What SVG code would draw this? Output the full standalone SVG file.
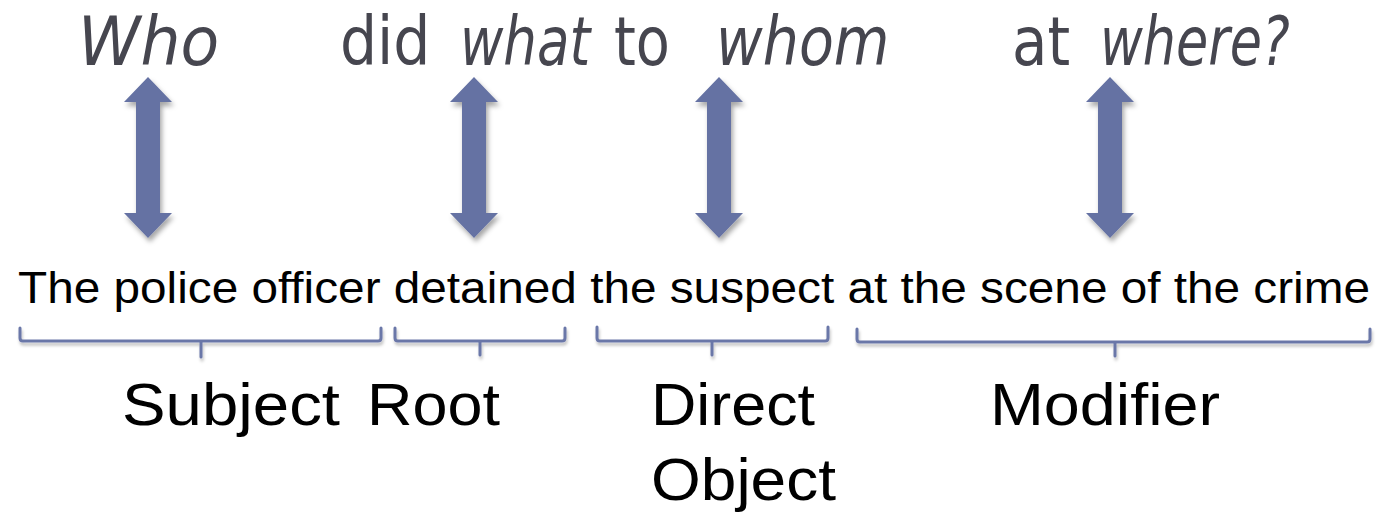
<svg xmlns="http://www.w3.org/2000/svg" width="1382" height="516" viewBox="0 0 1382 516">
  <style>
    .q { font-family: "DejaVu Sans", "Liberation Sans", sans-serif; font-size: 68px; fill: #46464f; }
    .qi { font-style: italic; }
    .sent { font-family: "Liberation Sans", Arial, sans-serif; font-size: 45px; fill: #000; }
    .lab { font-family: "Liberation Sans", Arial, sans-serif; font-size: 60px; fill: #000; }
    .arrow { fill: #6572a3; filter: url(#shadow); }
    .brace { fill: none; stroke: #6b77a8; stroke-width: 3; stroke-linecap: round; stroke-linejoin: round; filter: url(#shadow2); }
  </style>
  <defs>
    <filter id="shadow" x="-50%" y="-20%" width="200%" height="140%">
      <feDropShadow dx="2" dy="4" stdDeviation="2.5" flood-color="#000" flood-opacity="0.35"/>
    </filter>
    <filter id="shadow2" x="-5%" y="-50%" width="110%" height="200%">
      <feDropShadow dx="1" dy="3" stdDeviation="1.5" flood-color="#000" flood-opacity="0.25"/>
    </filter>
    <!-- double-headed vertical arrow, centred on x=0 -->
    <path id="dbl" d="M0,77 L24,102 L12,102 L12,213 L24,213 L0,238 L-24,213 L-12,213 L-12,102 L-24,102 Z"/>
  </defs>

  <!-- question line: each word condensed horizontally -->
  <g id="question">
    <text class="q qi" transform="translate(78,65) scale(0.93,1)">Who</text>
    <text class="q" transform="translate(340,65) scale(0.86,1)">did</text>
    <text class="q qi" transform="translate(460,65) scale(0.78,1)">what</text>
    <text class="q" transform="translate(614,65) scale(0.82,1)">to</text>
    <text class="q qi" transform="translate(716,65) scale(0.84,1)">whom</text>
    <text class="q" transform="translate(1012,65) scale(0.85,1)">at</text>
    <text class="q qi" transform="translate(1100,65) scale(0.77,1)">where?</text>
  </g>

  <!-- example sentence -->
  <g id="sentence">
    <text class="sent" x="18" y="303" textLength="1352" lengthAdjust="spacingAndGlyphs">The police officer detained the suspect at the scene of the crime</text>
  </g>

  <!-- role labels -->
  <g id="label-subject"><text class="lab" x="122" y="425" textLength="218" lengthAdjust="spacingAndGlyphs">Subject</text></g>
  <g id="label-root"><text class="lab" x="367" y="425" textLength="133" lengthAdjust="spacingAndGlyphs">Root</text></g>
  <g id="label-object">
    <text class="lab" x="651" y="425" textLength="164" lengthAdjust="spacingAndGlyphs">Direct</text>
    <text class="lab" x="651" y="500" textLength="185" lengthAdjust="spacingAndGlyphs">Object</text>
  </g>
  <g id="label-modifier"><text class="lab" x="990" y="425" textLength="230" lengthAdjust="spacingAndGlyphs">Modifier</text></g>

  <!-- arrows and braces -->
  <g id="connectors">
    <use href="#dbl" class="arrow" x="148"/>
    <use href="#dbl" class="arrow" x="474"/>
    <use href="#dbl" class="arrow" x="719"/>
    <use href="#dbl" class="arrow" x="1110"/>

    <path class="brace" d="M20,328 L20,338 Q20,341 23,341 L378,341 Q381,341 381,338 L381,328 M201,341 L201,357"/>
    <path class="brace" d="M395,328 L395,338 Q395,341 398,341 L562,341 Q565,341 565,338 L565,328 M480,341 L480,355"/>
    <path class="brace" d="M597,327 L597,338 Q597,341 600,341 L825,341 Q828,341 828,338 L828,327 M712,341 L712,355"/>
    <path class="brace" d="M857,329 L857,339 Q857,342 860,342 L1367,342 Q1370,342 1370,339 L1370,329 M1115,342 L1115,356"/>
  </g>
</svg>
